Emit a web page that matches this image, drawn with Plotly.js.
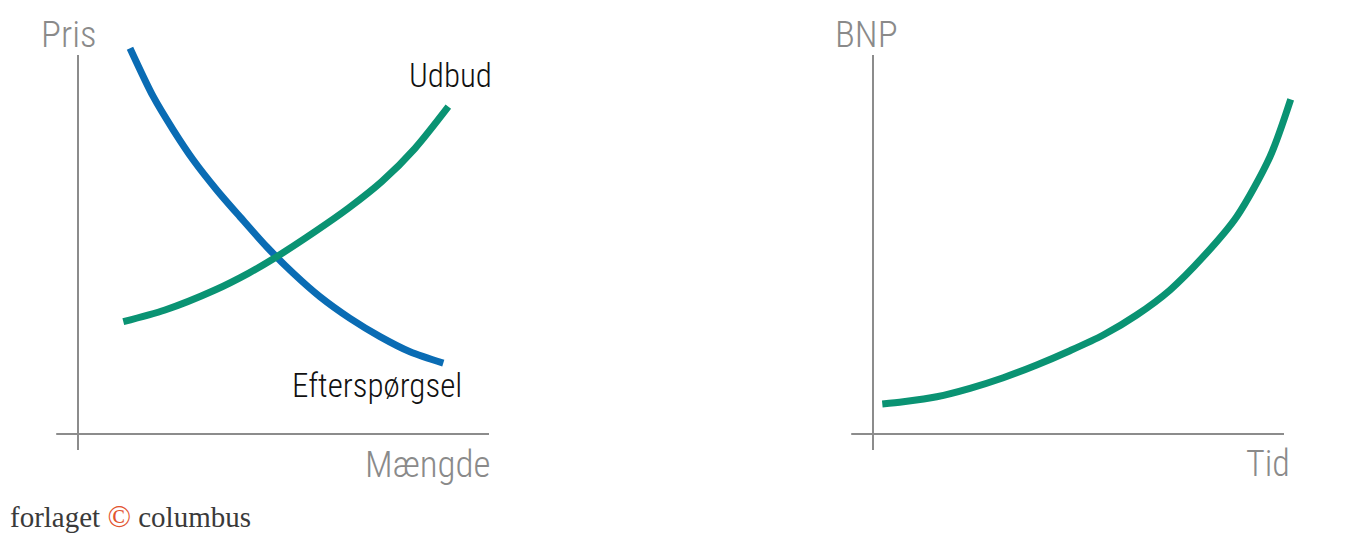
<!DOCTYPE html>
<html>
<head>
<meta charset="utf-8">
<script src="https://cdn.plot.ly/plotly-3.0.1.min.js"></script>
<style>html,body{margin:0;padding:0;background:#fff;}</style>
</head>
<body>
<div id="chart" style="width:1353px;height:535px;"></div>
<script>
// ---- Data (arbitrary units 0..10) ----
const demandX = [1.265, 1.832, 2.319, 2.805, 3.375, 3.942, 4.591, 5.238, 5.888, 6.618, 7.348, 8.078, 8.888];
const demandY = [10.18, 8.90, 8.02, 7.23, 6.44, 5.73, 4.94, 4.24, 3.62, 3.05, 2.57, 2.17, 1.87];
const supplyX = [1.102, 2.117, 3.333, 4.144, 4.835, 5.766, 6.577, 7.389, 8.200, 9.010];
const supplyY = [2.963, 3.272, 3.800, 4.240, 4.678, 5.338, 5.955, 6.657, 7.538, 8.636];
const gdpX = [0.226, 0.737, 1.550, 2.360, 3.170, 3.983, 4.793, 5.603, 6.416, 7.226, 8.036, 8.849, 9.659, 10.163];
const gdpY = [0.792, 0.852, 0.984, 1.206, 1.485, 1.821, 2.198, 2.612, 3.140, 3.799, 4.678, 5.733, 7.317, 8.831];

const leftLabels = {y: 'Pris', x: 'Mængde', supply: 'Udbud', demand: 'Efterspørgsel'};
const rightLabels = {y: 'BNP', x: 'Tid'};
const logoParts = ['forlaget', '©', 'columbus'];

// ---- Styling ----
const W = 1353, H = 535;
const pxPerX = 41.1, pxPerY = 37.9;
const leftOrigin = 78, rightOrigin = 873, originY = 434;
const GREEN = '#0a9373', BLUE = '#0a6cb4', AXIS = '#8c8c8c', TXT = '#8a8a8a';
const labelFont = 'Roboto Condensed, Roboto, sans-serif';

function xr(d0, d1, origin) {
  return [(d0 * W - origin) / pxPerX, (d1 * W - origin) / pxPerX];
}
const yr = [(originY - H) / pxPerY, originY / pxPerY];

const lineStyle = (c) => ({color: c, width: 7, shape: 'spline', smoothing: 0.8});
const traces = [
  {x: demandX, y: demandY, xaxis: 'x', yaxis: 'y', mode: 'lines', line: lineStyle(BLUE), hoverinfo: 'skip'},
  {x: supplyX, y: supplyY, xaxis: 'x', yaxis: 'y', mode: 'lines', line: lineStyle(GREEN), hoverinfo: 'skip'},
  {x: gdpX, y: gdpY, xaxis: 'x2', yaxis: 'y2', mode: 'lines', line: lineStyle(GREEN), hoverinfo: 'skip'}
];

function axisShapes(xref, yref) {
  return [
    {type: 'line', xref: xref, yref: yref, x0: 0, x1: 0, y0: -0.42, y1: 10,
     line: {color: AXIS, width: 2}},
    {type: 'line', xref: xref, yref: yref, x0: -0.53, x1: 10, y0: 0, y1: 0,
     line: {color: AXIS, width: 2}}
  ];
}

function ann(xref, yref, x, y, text, anchor, color, size) {
  return {xref: xref, yref: yref, x: x, y: y, text: text, showarrow: false,
    xanchor: anchor, yanchor: 'middle',
    font: {family: labelFont, size: size, color: color, weight: 300}};
}

const axHidden = {visible: false, fixedrange: true, showgrid: false, zeroline: false};

const layout = {
  width: W, height: H,
  margin: {l: 0, r: 0, t: 0, b: 0},
  paper_bgcolor: '#fff', plot_bgcolor: 'rgba(0,0,0,0)',
  showlegend: false,
  xaxis: Object.assign({}, axHidden, {domain: [0, 0.5], range: xr(0, 0.5, leftOrigin)}),
  yaxis: Object.assign({}, axHidden, {domain: [0, 1], range: yr}),
  xaxis2: Object.assign({}, axHidden, {domain: [0.5, 1], range: xr(0.5, 1, rightOrigin), anchor: 'y2'}),
  yaxis2: Object.assign({}, axHidden, {domain: [0, 1], range: yr, anchor: 'x2'}),
  shapes: axisShapes('x', 'y').concat(axisShapes('x2', 'y2')),
  annotations: [
    ann('x', 'y', -0.22, 10.55, leftLabels.y, 'center', TXT, 37),
    ann('x', 'y', 10.1, -0.8, leftLabels.x, 'right', TXT, 37),
    ann('x', 'y', 10.12, 9.45, leftLabels.supply, 'right', '#111', 33),
    ann('x', 'y', 9.4, 1.27, leftLabels.demand, 'right', '#111', 33),
    ann('x2', 'y2', -0.16, 10.55, rightLabels.y, 'center', TXT, 37),
    ann('x2', 'y2', 10.2, -0.78, rightLabels.x, 'right', TXT, 36),
    {xref: 'paper', yref: 'paper', x: 8 / W, y: 1 - 516 / H, showarrow: false,
     xanchor: 'left', yanchor: 'middle',
     text: logoParts[0] + ' <span style="color:#e2542f;font-size:31px">' + logoParts[1] + '</span> ' + logoParts[2],
     font: {family: 'Liberation Serif, serif', size: 29, color: '#3a3a3a'}}
  ]
};

Plotly.newPlot('chart', traces, layout, {displayModeBar: false, staticPlot: true});
</script>
</body>
</html>
